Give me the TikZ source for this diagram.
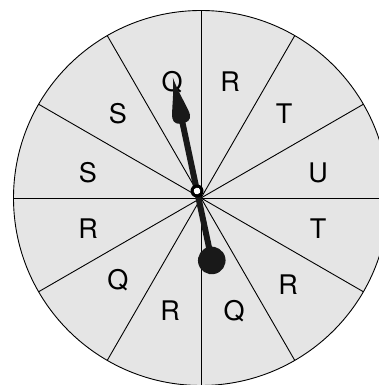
\documentclass[tikz,border=0pt]{standalone}
\usepackage{fontspec}
\setmainfont{TeX Gyre Heros}
\usetikzlibrary{calc}
\begin{document}
\begin{tikzpicture}[x=1pt,y=1pt,
  lbl/.style={font=\fontsize{27}{31}\selectfont, inner sep=0pt},
  spoke/.style={line width=0.9pt, black},
  pointer/.style={fill=black!90!white, draw=none}]
\useasboundingbox (0,0) rectangle (379,385);
\begin{scope}
\clip (0,0) rectangle (379,385);
\coordinate (c) at (201,187);
\fill[gray!20] (c) circle (187.5);
\foreach \a in {0,30,...,150}{
  \draw[spoke] ($(c)+(\a:187.5)$) -- ($(c)+(\a+180:187.5)$);
}
\draw[line width=0.9pt] (c) circle (187.5);
\end{scope}
% labels (pixel coords, y flipped)
\node[lbl] (l1)  at (172,385-82)  {Q};
\node[lbl] (l2)  at (230,385-82)  {R};
\node[lbl] (l3)  at (284,385-114) {T};
\node[lbl] (l4)  at (318,385-173) {U};
\node[lbl] (l5)  at (318,385-229) {T};
\node[lbl] (l6)  at (288,385-285) {R};
\node[lbl] (l7)  at (234,385-311) {Q};
\node[lbl] (l8)  at (170,385-311) {R};
\node[lbl] (l9)  at (118,385-280) {Q};
\node[lbl] (l10) at (88,385-229)  {R};
\node[lbl] (l11) at (88,385-173)  {S};
\node[lbl] (l12) at (118,385-114) {S};
% pointer
\begin{scope}[shift={(197,385-191)}, rotate=12]
  \draw[line width=6pt, black!90!white] (0,-71) -- (0,74);
  \fill[pointer] (0,116) .. controls (2,100) and (9,82) .. (9,76)
     .. controls (9,71) and (4,68) .. (0,70)
     .. controls (-4,68) and (-9,71) .. (-9,76)
     .. controls (-9,82) and (-2,100) .. (0,116) -- cycle;
  \fill[pointer] (0,-71) circle (13.8);
  \fill[black] (0,0) circle (6.5);
  \fill[white] (0,0) circle (3.3);
\end{scope}
\end{tikzpicture}
\end{document}
